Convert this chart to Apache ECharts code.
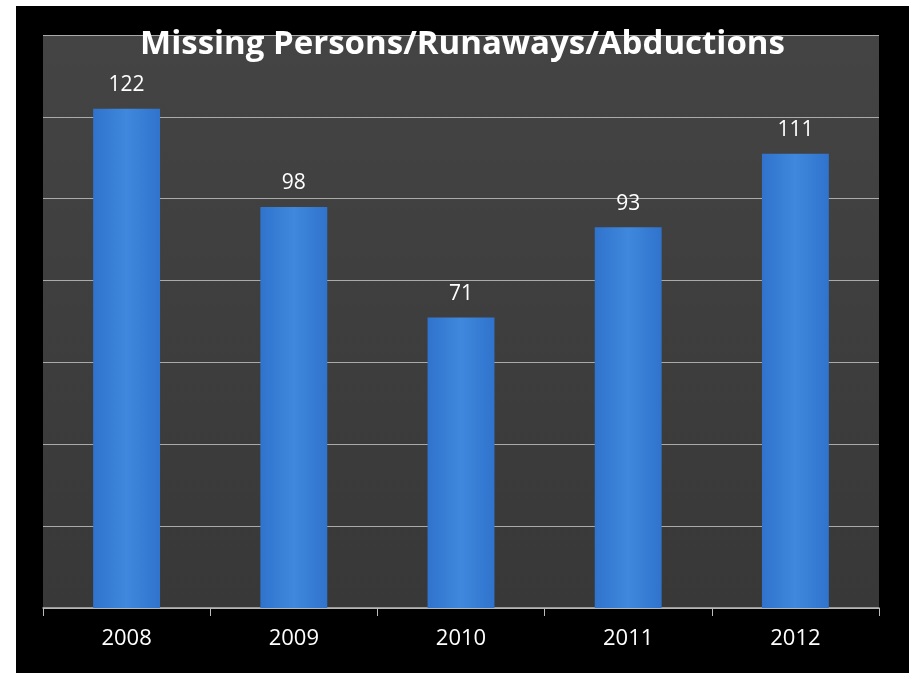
<!DOCTYPE html>
<html><head><meta charset="utf-8">
<script src="https://cdn.jsdelivr.net/npm/echarts@6/dist/echarts.min.js"></script>
<style>html,body{margin:0;padding:0;background:#fff;}#c{position:absolute;left:16px;top:6px;width:893px;height:667px;}</style>
</head><body><div id="c"></div>
<script>
const categories = ['2008','2009','2010','2011','2012'];
const values = [122, 98, 71, 93, 111];
const titleText = 'Missing Persons/Runaways/Abductions';

const chart = echarts.init(document.getElementById('c'));
chart.setOption({
  backgroundColor: '#000',
  animation: false,
  title: {
    text: titleText,
    left: 'center',
    top: 17,
    textStyle: {color: '#fff', fontSize: 33, fontWeight: 'bold', fontFamily: 'Open Sans'}
  },
  grid: {
    left: 27, right: 30, top: 29, bottom: 65,
    show: true,
    borderWidth: 0,
    backgroundColor: new echarts.graphic.LinearGradient(0,0,0,1,[
      {offset:0,color:'#444'},{offset:1,color:'#383838'}])
  },
  xAxis: {
    type: 'category',
    data: categories,
    axisLine: {lineStyle: {color: '#bbb', width: 1.5}},
    axisTick: {show: true, length: 8, lineStyle: {color: '#bbb'}},
    axisLabel: {color: '#fff', fontSize: 22, fontFamily: 'Open Sans', margin: 20}
  },
  yAxis: {
    type: 'value',
    min: 0, max: 140, interval: 20,
    axisLabel: {show: false},
    axisLine: {show: false},
    axisTick: {show: false},
    splitLine: {lineStyle: {color: '#aaa', width: 1}}
  },
  series: [{
    type: 'bar',
    data: values,
    barWidth: '40%',
    itemStyle: {
      color: new echarts.graphic.LinearGradient(0,0,1,0,[
        {offset:0,color:'#3073cc'},{offset:0.5,color:'#3f88de'},{offset:1,color:'#3073cc'}])
    },
    label: {
      show: true, position: 'top', distance: 13,
      color: '#fff', fontSize: 21, fontFamily: 'Open Sans'
    }
  }]
});
</script></body></html>
